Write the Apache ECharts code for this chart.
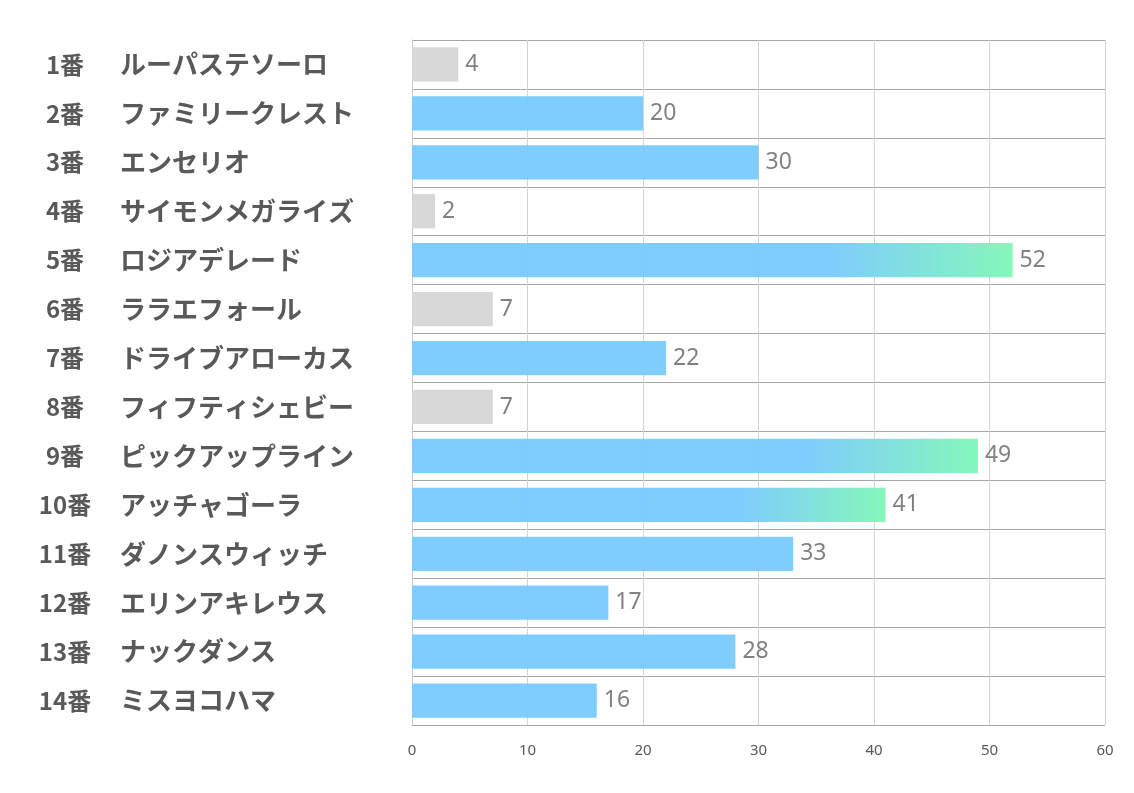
<!DOCTYPE html>
<html>
<head>
<meta charset="utf-8">
<script src="https://cdn.jsdelivr.net/npm/echarts@6/dist/echarts.min.js"></script>
<style>
  html, body { margin: 0; padding: 0; background: #fff; }
  #chart { width: 1134px; height: 793px; }
</style>
</head>
<body>
<div id="chart"></div>
<script>
// horse numbers and names, top to bottom
const horseNos = ['1番', '2番', '3番', '4番', '5番', '6番', '7番', '8番', '9番', '10番', '11番', '12番', '13番', '14番'];
const horseNames = ['ルーパステソーロ', 'ファミリークレスト', 'エンセリオ', 'サイモンメガライズ', 'ロジアデレード',
  'ララエフォール', 'ドライブアローカス', 'フィフティシェビー', 'ピックアップライン', 'アッチャゴーラ',
  'ダノンスウィッチ', 'エリンアキレウス', 'ナックダンス', 'ミスヨコハマ'];
const scores = [4, 20, 30, 2, 52, 7, 22, 7, 49, 41, 33, 17, 28, 16];
// bar kind: low = gray, mid = blue, top = blue->green
const barKinds = ['low', 'mid', 'mid', 'low', 'top', 'low', 'mid', 'low', 'top', 'top', 'mid', 'mid', 'mid', 'mid'];
const xTicks = [0, 10, 20, 30, 40, 50, 60];

const BLUE = '#78c9ff';
const GREEN = '#7ef7b6';
const kindStyle = {
  low: { color: '#d6d6d6' },
  mid: { color: BLUE },
  top: {
    color: new echarts.graphic.LinearGradient(0, 0, 1, 0, [
      { offset: 0, color: BLUE },
      { offset: 0.69, color: BLUE },
      { offset: 1, color: GREEN }
    ])
  }
};

const categories = horseNos.map((n, i) => n + '|' + horseNames[i]);

const chart = echarts.init(document.getElementById('chart'));
chart.setOption({
  backgroundColor: '#fff',
  animation: false,
  grid: { left: 412, right: 29, top: 40, bottom: 68, containLabel: false },
  xAxis: {
    type: 'value',
    min: xTicks[0],
    max: xTicks[xTicks.length - 1],
    interval: 10,
    axisLine: { show: false },
    axisTick: { show: false },
    splitLine: { show: true, lineStyle: { color: '#d4d4d4', width: 1 } },
    axisLabel: {
      margin: 18,
      color: '#595959',
      fontSize: 15,
      fontFamily: '"Liberation Sans Narrow", "Noto Sans", sans-serif'
    }
  },
  yAxis: {
    type: 'category',
    inverse: true,
    data: categories,
    axisLine: { show: true, lineStyle: { color: '#c8c8c8' } },
    axisTick: { show: false },
    splitLine: { show: true, lineStyle: { color: '#a6a6a6', width: 1 } },
    axisLabel: {
      align: 'left',
      margin: 374,
      formatter: v => {
        const p = v.split('|');
        return '{n|' + p[0] + '}{s|' + p[1] + '}';
      },
      rich: {
        n: {
          width: 54, align: 'right', fontSize: 24, fontWeight: 'bold', color: '#595959',
          fontFamily: '"Noto Sans CJK JP", sans-serif'
        },
        s: {
          padding: [0, 0, 0, 28], fontSize: 26, fontWeight: 'bold', color: '#595959',
          fontFamily: '"Noto Sans CJK JP", sans-serif'
        }
      }
    }
  },
  series: [{
    type: 'bar',
    barWidth: '70%',
    data: scores.map((v, i) => ({
      value: v,
      itemStyle: Object.assign({ opacity: 0.95 }, kindStyle[barKinds[i]])
    })),
    label: {
      show: true,
      position: 'right',
      distance: 7,
      color: '#7a7a7a',
      fontSize: 23,
      fontFamily: '"Noto Sans", sans-serif'
    }
  }]
});
</script>
</body>
</html>
